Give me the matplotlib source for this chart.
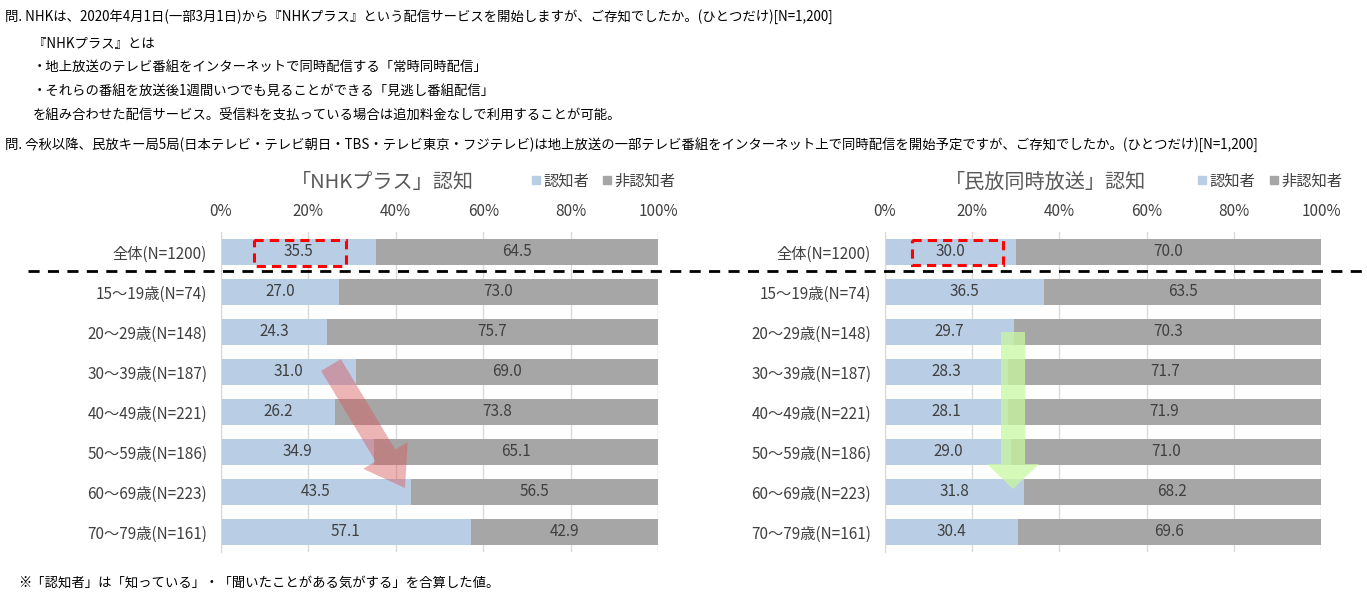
import matplotlib
matplotlib.use("Agg")
from matplotlib import pyplot as plt
from matplotlib.patches import FancyArrow, Rectangle

plt.rcParams['font.family'] = ['Noto Sans CJK JP', 'DejaVu Sans']

# data
categories = ["全体(N=1200)", "15～19歳(N=74)", "20～29歳(N=148)", "30～39歳(N=187)",
              "40～49歳(N=221)", "50～59歳(N=186)", "60～69歳(N=223)", "70～79歳(N=161)"]
nhk_aware = [35.5, 27.0, 24.3, 31.0, 26.2, 34.9, 43.5, 57.1]
nhk_unaware = [64.5, 73.0, 75.7, 69.0, 73.8, 65.1, 56.5, 42.9]
min_aware = [30.0, 36.5, 29.7, 28.3, 28.1, 29.0, 31.8, 30.4]
min_unaware = [70.0, 63.5, 70.3, 71.7, 71.9, 71.0, 68.2, 69.6]
x_ticks = [0, 20, 40, 60, 80, 100]
x_ticklabels = ["0%", "20%", "40%", "60%", "80%", "100%"]
legend_names = ["認知者", "非認知者"]

header = [
    (5, 17, "問. NHKは、2020年4月1日(一部3月1日)から『NHKプラス』という配信サービスを開始しますが、ご存知でしたか。(ひとつだけ)[N=1,200]"),
    (33, 44, "『NHKプラス』とは"),
    (33, 67, "・地上放送のテレビ番組をインターネットで同時配信する「常時同時配信」"),
    (33, 91, "・それらの番組を放送後1週間いつでも見ることができる「見逃し番組配信」"),
    (33, 116, "を組み合わせた配信サービス。受信料を支払っている場合は追加料金なしで利用することが可能。"),
    (5, 145, "問. 今秋以降、民放キー局5局(日本テレビ・テレビ朝日・TBS・テレビ東京・フジテレビ)は地上放送の一部テレビ番組をインターネット上で同時配信を開始予定ですが、ご存知でしたか。(ひとつだけ)[N=1,200]"),
]
note = "※「認知者」は「知っている」・「聞いたことがある気がする」を合算した値。"

BLUE = "#b9cde5"
GRAY = "#a6a6a6"
TXT = "#404040"

W, H = 1367, 599
fig = plt.figure(figsize=(W / 100, H / 100), dpi=100)

# overlay in pixel coordinates for text and decorations
ov = fig.add_axes([0, 0, 1, 1], zorder=5)
ov.set_xlim(0, W)
ov.set_ylim(H, 0)
ov.axis("off")
ov.patch.set_alpha(0)

for x, y, s in header:
    ov.text(x, y, s, fontsize=9.6, color="black", va="center", ha="left")
ov.text(18, 583, note, fontsize=9.6, color="black", va="center", ha="left")


def make_panel(x0, x1, aware, unaware, title, tx, leg_x):
    ax = fig.add_axes([x0 / W, (H - 552) / H, (x1 - x0) / W, 320 / H])
    ypos = list(range(len(categories)))
    ax.barh(ypos, aware, height=0.67, color=BLUE, zorder=2)
    ax.barh(ypos, unaware, left=aware, height=0.67, color=GRAY, zorder=2)
    for i in ypos:
        ax.text(aware[i] / 2, i, "%.1f" % aware[i], ha="center", va="center",
                fontsize=11, color=TXT, zorder=3)
        ax.text(aware[i] + unaware[i] / 2, i, "%.1f" % unaware[i], ha="center",
                va="center", fontsize=11, color=TXT, zorder=3)
    ax.set_xlim(0, 100)
    ax.set_ylim(len(categories) - 0.5, -0.5)
    ax.set_yticks(ypos)
    ax.set_yticklabels(categories, fontsize=11, color=TXT)
    ax.set_xticks(x_ticks)
    ax.set_xticklabels(x_ticklabels, fontsize=11, color=TXT)
    ax.xaxis.tick_top()
    ax.tick_params(axis="x", length=0, pad=9)
    ax.tick_params(axis="y", length=0, pad=10)
    ax.grid(axis="x", color="#d9d9d9", linewidth=1, zorder=0)
    for s in ["top", "right", "bottom"]:
        ax.spines[s].set_visible(False)
    ax.spines["left"].set_color("#d9d9d9")
    ax.patch.set_alpha(0)
    # title and legend
    ov.text(tx, 182, title, fontsize=14.5, color="#595959", ha="center", va="center")
    for k, (nm, c) in enumerate(zip(legend_names, [BLUE, GRAY])):
        lx = leg_x[k]
        ov.add_patch(Rectangle((lx - 11, 176), 8, 8, color=c))
        ov.text(lx, 181, nm, fontsize=11, color=TXT, ha="left", va="center")
    return ax


make_panel(221, 658, nhk_aware, nhk_unaware, "「NHKプラス」認知", 382, [543, 614])
make_panel(885, 1321, min_aware, min_unaware, "「民放同時放送」認知", 1046, [1209, 1281])

# separator
ov.plot([28, 1362], [271, 271], color="black", linewidth=2, linestyle=(0, (4, 3)))

# red dashed highlight boxes
ov.add_patch(Rectangle((254, 240), 92, 26, fill=False, edgecolor="#ff0000",
                       linewidth=2.2, linestyle=(0, (3, 2))))
ov.add_patch(Rectangle((912, 240), 91, 25, fill=False, edgecolor="#ff0000",
                       linewidth=2.2, linestyle=(0, (3, 2))))

# trend arrows
ov.add_patch(FancyArrow(331, 365, 74, 123, width=23, head_width=52, head_length=38,
                        length_includes_head=True, color="#d9595c", alpha=0.45,
                        linewidth=0))
ov.add_patch(FancyArrow(1013, 332, 0, 157, width=24, head_width=52, head_length=25,
                        length_includes_head=True, color="#c8f7a0", alpha=0.75,
                        linewidth=0))

fig.savefig("out.png", dpi=100)
